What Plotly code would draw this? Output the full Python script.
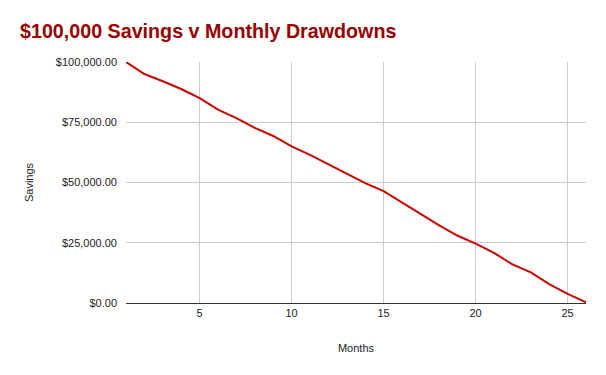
import plotly.graph_objects as go

months = list(range(1, 27))
savings = [100000, 95000, 92000, 88800, 85000, 80200, 76700, 72700, 69300, 65000,
           61500, 57500, 53700, 49700, 46400, 41700, 37000, 32300, 28000, 24600,
           20800, 16000, 12700, 7800, 3800, 300]
x_ticks = [5, 10, 15, 20, 25]
y_ticks = [0, 25000, 50000, 75000, 100000]

fig = go.Figure()
fig.add_trace(go.Scatter(x=months, y=savings, mode="lines",
                         line=dict(color="#cc0000", width=2), hoverinfo="x+y"))

fig.update_layout(
    width=606, height=375,
    margin=dict(l=126, r=20, t=62, b=72),
    paper_bgcolor="white", plot_bgcolor="white",
    showlegend=False,
    font=dict(family="Liberation Sans, Arial, sans-serif", size=11, color="#222222"),
    title=dict(text="<b>$100,000 Savings v Monthly Drawdowns</b>",
               xref="container", x=20 / 606, xanchor="left", y=0.917, yanchor="middle",
               font=dict(size=19.7, color="#990000"), pad=dict(l=0)),
    xaxis=dict(range=[1, 26], tickvals=x_ticks, showgrid=True, gridcolor="#cccccc",
               gridwidth=1, zeroline=False, showline=True, linecolor="#333333",
               linewidth=1, ticks="", ticklen=0,
               title=dict(text="Months", standoff=26, font=dict(size=11))),
    yaxis=dict(range=[0, 100000], tickvals=y_ticks, tickformat="$,.2f",
               showgrid=True, gridcolor="#cccccc", gridwidth=1, zeroline=False,
               showline=False, ticks="", ticklabelstandoff=8,
               title=dict(text="Savings", standoff=19, font=dict(size=11))),
)

fig.write_html("out.html")
